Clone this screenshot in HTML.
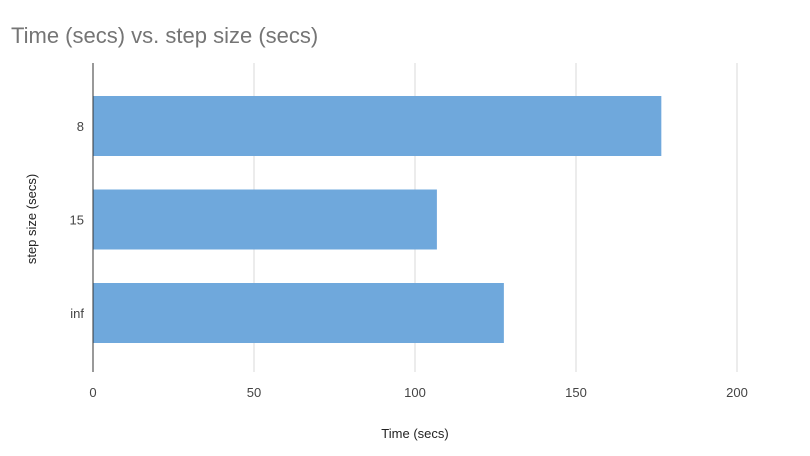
<!DOCTYPE html>
<html><head><meta charset="utf-8"><style>
body{margin:0;background:#fff;}
svg{display:block;font-family:"Liberation Sans",Arial,sans-serif;}
</style></head><body>
<svg id="chart" width="810" height="456">
<text x="11" y="43" font-size="22" fill="#757575">Time (secs) vs. step size (secs)</text>
<g id="grid"></g><g id="bars"></g><g id="labels"></g>
<line x1="93" y1="63" x2="93" y2="372" stroke="#333" stroke-width="1"/>
<text x="415" y="438" font-size="13" fill="#222" text-anchor="middle">Time (secs)</text>
<text transform="translate(36,219) rotate(-90)" font-size="13" fill="#222" text-anchor="middle">step size (secs)</text>
</svg>
<script>
const categories = ["8", "15", "inf"];
const values = [176.5, 106.8, 127.6];
const xTicks = [0, 50, 100, 150, 200];
const NS = "http://www.w3.org/2000/svg";
const x = v => 93 + v * (644 / 200);
const yc = i => 126 + i * 93.5;
const grid = document.getElementById('grid'), bars = document.getElementById('bars'), labels = document.getElementById('labels');
function mk(tag, attrs){const e=document.createElementNS(NS,tag);for(const k in attrs)e.setAttribute(k,attrs[k]);return e;}
xTicks.forEach(t=>{
  if(t>0){const l=mk('line',{x1:x(t),x2:x(t),y1:63,y2:372,stroke:'#d9d9d9','stroke-width':1});
  
  
  grid.appendChild(l);}
  const tx=mk('text',{x:x(t),y:397,'font-size':13,fill:'#444','text-anchor':'middle'});
  tx.textContent=t;
  
  
  labels.appendChild(tx);
});
categories.forEach((c,i)=>{
  const r=mk('rect',{x:x(0),y:yc(i)-30,width:x(values[i])-x(0),height:60,fill:'#6fa8dc'});
  
  
  bars.appendChild(r);
  const tx=mk('text',{x:84,y:yc(i)+5,'font-size':13,fill:'#444','text-anchor':'end'});
  tx.textContent=c;
  
  
  labels.appendChild(tx);
});
</script>
</body></html>
